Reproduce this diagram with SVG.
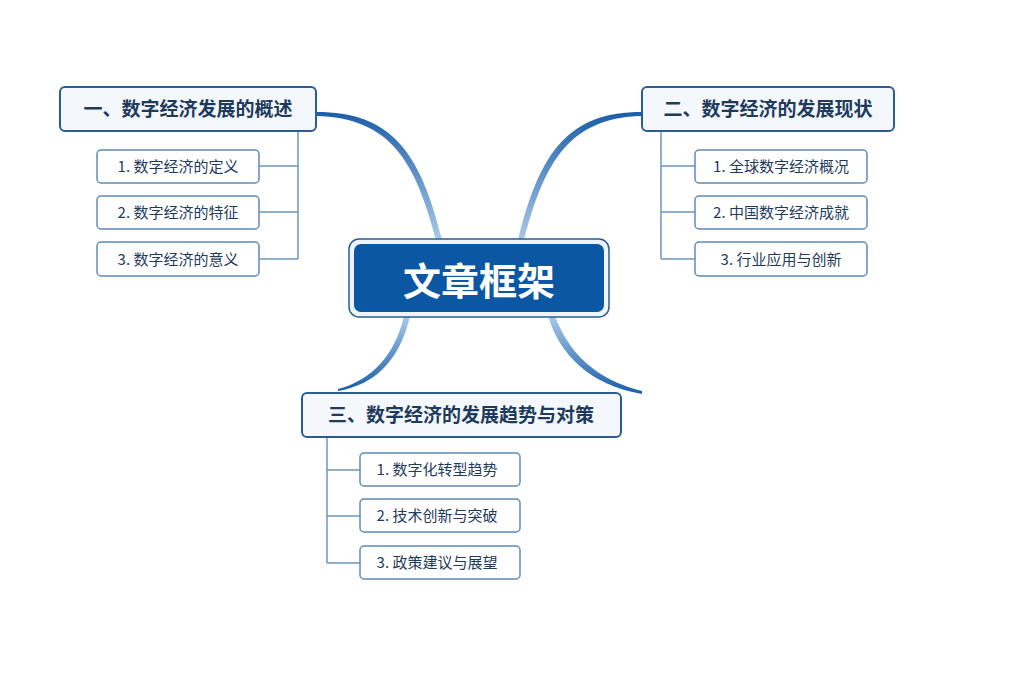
<svg xmlns="http://www.w3.org/2000/svg" width="1024" height="683" viewBox="0 0 1024 683">
<style>
text{font-family:"Noto Sans CJK SC","Noto Sans",sans-serif;fill:#1f3b5c}
.main{fill:#f4f8fc;stroke:#2a5d93;stroke-width:2}
.sub{fill:#fff;stroke:#5f8bb8;stroke-width:1.5}
.mt{font-size:19px;font-weight:bold}
.st{font-size:15px}
.tree{fill:none;stroke:#6d95bf;stroke-width:1.5}
</style>
<defs>
<linearGradient id="gA" x1="0" y1="0" x2="0" y2="1"><stop offset="0" stop-color="#1b5ea8"/><stop offset="1" stop-color="#a9c9ea"/></linearGradient>
<linearGradient id="gB" x1="0" y1="1" x2="0" y2="0"><stop offset="0" stop-color="#1b5ea8"/><stop offset="1" stop-color="#a9c9ea"/></linearGradient>
</defs>
<rect width="1024" height="683" fill="#fff"/>
<g id="connectors">
<path d="M316,112 C390,112 420,150 442,240 L436,240 C415,160 390,118 316,116 Z" fill="url(#gA)"/>
<path d="M642,112 C570,112 540,150 518,240 L524,240 C545,160 570,118 642,116 Z" fill="url(#gA)"/>
<path d="M410,316 C400,360 375,385 338,391 L338,389 C372,380 395,355 404,316 Z" fill="url(#gB)"/>
<path d="M548,316 C560,355 590,385 642,394 L642,391 C596,380 568,352 555,316 Z" fill="url(#gB)"/>
<path class="tree" d="M298,131 V259 M298,166 H259 M298,212 H259 M298,259 H259"/>
<path class="tree" d="M661,131 V259 M661,166 H695 M661,212 H695 M661,259 H695"/>
<path class="tree" d="M327,437 V563 M327,470 H360 M327,516 H360 M327,563 H360"/>
</g>
<g id="center">
<rect x="349" y="239" width="260" height="78" rx="10" fill="#eef4fb" stroke="#2a5d93" stroke-width="1.5"/>
<rect x="354" y="244" width="250" height="68" rx="7" fill="#0b57a4"/>
<text x="479" y="295" text-anchor="middle" font-size="38" font-weight="bold" style="fill:#fff">文章框架</text>
</g>
<g id="n1">
<rect class="main" x="60" y="87" width="256" height="44" rx="5"/>
<text class="mt" x="188" y="116" text-anchor="middle">一、数字经济发展的概述</text>
</g>
<g id="n1a"><rect class="sub" x="97" y="150" width="162" height="33" rx="4"/><text class="st" x="178" y="172" text-anchor="middle">1. 数字经济的定义</text></g>
<g id="n1b"><rect class="sub" x="97" y="196" width="162" height="33" rx="4"/><text class="st" x="178" y="218" text-anchor="middle">2. 数字经济的特征</text></g>
<g id="n1c"><rect class="sub" x="97" y="242" width="162" height="34" rx="4"/><text class="st" x="178" y="265" text-anchor="middle">3. 数字经济的意义</text></g>
<g id="n2">
<rect class="main" x="642" y="87" width="252" height="44" rx="5"/>
<text class="mt" x="768" y="116" text-anchor="middle">二、数字经济的发展现状</text>
</g>
<g id="n2a"><rect class="sub" x="695" y="150" width="172" height="33" rx="4"/><text class="st" x="781" y="172" text-anchor="middle">1. 全球数字经济概况</text></g>
<g id="n2b"><rect class="sub" x="695" y="196" width="172" height="33" rx="4"/><text class="st" x="781" y="218" text-anchor="middle">2. 中国数字经济成就</text></g>
<g id="n2c"><rect class="sub" x="695" y="242" width="172" height="34" rx="4"/><text class="st" x="781" y="265" text-anchor="middle">3. 行业应用与创新</text></g>
<g id="n3">
<rect class="main" x="302" y="393" width="319" height="44" rx="5"/>
<text class="mt" x="461" y="422" text-anchor="middle">三、数字经济的发展趋势与对策</text>
</g>
<g id="n3a"><rect class="sub" x="360" y="453" width="160" height="33" rx="4"/><text class="st" x="437" y="475" text-anchor="middle">1. 数字化转型趋势</text></g>
<g id="n3b"><rect class="sub" x="360" y="499" width="160" height="33" rx="4"/><text class="st" x="437" y="521" text-anchor="middle">2. 技术创新与突破</text></g>
<g id="n3c"><rect class="sub" x="360" y="546" width="160" height="33" rx="4"/><text class="st" x="437" y="568" text-anchor="middle">3. 政策建议与展望</text></g>
</svg>
